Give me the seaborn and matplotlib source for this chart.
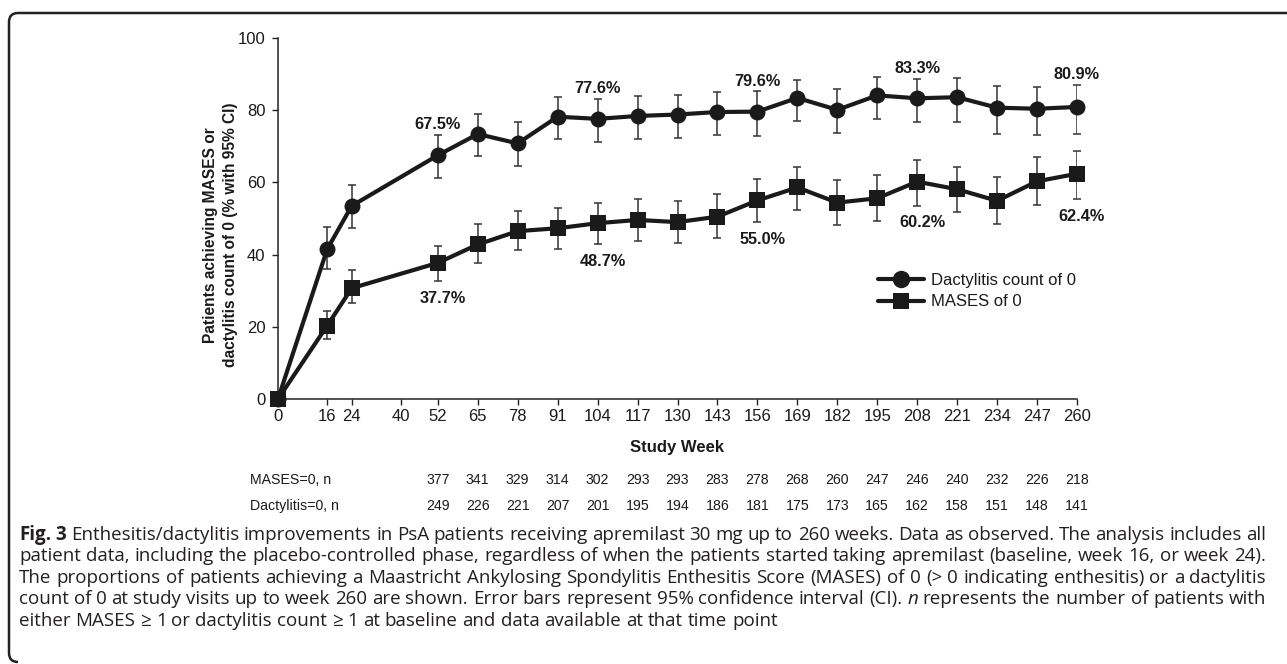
import numpy as np
import pandas as pd
import seaborn as sns
import matplotlib
matplotlib.use("Agg")
import matplotlib.pyplot as plt
from matplotlib.path import Path
from matplotlib.patches import PathPatch
from matplotlib.transforms import IdentityTransform, blended_transform_factory
from matplotlib.lines import Line2D

# ---- data -------------------------------------------------------------
weeks = [0, 16, 24, 52, 65, 78, 91, 104, 117, 130, 143, 156, 169, 182, 195,
         208, 221, 234, 247, 260]

dact = [0, 41.5, 53.5, 67.5, 73.4, 70.8, 78.2, 77.6, 78.4, 78.8, 79.5, 79.6,
        83.4, 80.1, 84.1, 83.3, 83.6, 80.7, 80.4, 80.9]
dact_lo = [0, 35.9, 47.4, 61.3, 67.2, 64.5, 72.0, 71.1, 72.0, 72.4, 73.0, 72.9,
           77.1, 73.6, 77.7, 76.7, 76.7, 73.5, 73.0, 73.3]
dact_hi = [0, 47.6, 59.2, 73.1, 78.9, 76.8, 83.6, 83.1, 83.9, 84.3, 85.1, 85.2,
           88.5, 86.0, 89.3, 88.6, 89.0, 86.7, 86.5, 87.0]

mases = [0, 20.3, 30.7, 37.7, 42.8, 46.5, 47.3, 48.7, 49.6, 49.0, 50.5, 55.0,
         58.6, 54.4, 55.6, 60.2, 58.1, 54.9, 60.3, 62.4]
mases_lo = [0, 16.6, 26.6, 32.7, 37.6, 41.2, 41.6, 42.8, 43.9, 43.1, 44.7, 48.9,
            52.3, 48.1, 49.2, 53.6, 51.7, 48.4, 53.7, 55.4]
mases_hi = [0, 24.5, 35.6, 42.5, 48.5, 52.2, 52.8, 54.3, 55.5, 54.8, 56.7, 60.9,
            64.4, 60.7, 62.0, 66.1, 64.4, 61.6, 67.0, 68.7]

labelled_weeks = [52, 104, 156, 208, 260]

x_ticks = [0, 16, 24, 40, 52, 65, 78, 91, 104, 117, 130, 143, 156, 169, 182,
           195, 208, 221, 234, 247, 260]
y_ticks = [0, 20, 40, 60, 80, 100]

n_weeks = [52, 65, 78, 91, 104, 117, 130, 143, 156, 169, 182, 195, 208, 221,
           234, 247, 260]
mases_n = [377, 341, 329, 314, 302, 293, 293, 283, 278, 268, 260, 247, 246,
           240, 232, 226, 218]
dact_n = [249, 226, 221, 207, 201, 195, 194, 186, 181, 175, 173, 165, 162, 158,
          151, 148, 141]

series_names = ["Dactylitis count of 0", "MASES of 0"]

caption_lines = [
    [("Fig. 3", "bold"), (" Enthesitis/dactylitis improvements in PsA patients receiving "
                          "apremilast 30 mg up to 260 weeks. Data as observed. The analysis includes all", "normal")],
    [("patient data, including the placebo-controlled phase, regardless of when the patients "
      "started taking apremilast (baseline, week 16, or week 24).", "normal")],
    [("The proportions of patients achieving a Maastricht Ankylosing Spondylitis Enthesitis "
      "Score (MASES) of 0 (> 0 indicating enthesitis) or a dactylitis", "normal")],
    [("count of 0 at study visits up to week 260 are shown. Error bars represent 95% confidence "
      "interval (CI). ", "normal"), ("n", "italic"),
     (" represents the number of patients with", "normal")],
    [("either MASES \u2265 1 or dactylitis count \u2265 1 at baseline and data available at "
      "that time point", "normal")],
]

# ---- styling ----------------------------------------------------------
sns.set_theme(style="ticks")
plt.rcParams["font.family"] = ["Liberation Sans", "DejaVu Sans"]
INK = "#1a1a1a"

W, H = 1287, 664
fig = plt.figure(figsize=(W / 100, H / 100), dpi=100)
fig.patch.set_facecolor("white")

ax_l, ax_r, ax_t, ax_b = 278, 1077, 38, 399
ax = fig.add_axes([ax_l / W, 1 - ax_b / H, (ax_r - ax_l) / W, (ax_b - ax_t) / H])
ax.set_facecolor("white")

df = pd.DataFrame({
    "week": weeks * 2,
    "pct": dact + mases,
    "series": [series_names[0]] * len(weeks) + [series_names[1]] * len(weeks),
})

# confidence intervals
for vals, lo, hi in [(dact, dact_lo, dact_hi), (mases, mases_lo, mases_hi)]:
    w = np.array(weeks, float)
    v = np.array(vals, float)
    lo = np.array(lo, float)
    hi = np.array(hi, float)
    m = hi > lo
    ax.errorbar(w[m], v[m], yerr=[v[m] - lo[m], hi[m] - v[m]], fmt="none",
                ecolor="#333333", elinewidth=1.1, capsize=2.6, capthick=1.1,
                zorder=2)

sns.lineplot(data=df, x="week", y="pct", hue="series", style="series",
             palette={series_names[0]: INK, series_names[1]: INK},
             markers={series_names[0]: "o", series_names[1]: "s"},
             dashes=False, linewidth=3.0, markersize=11.5, markeredgewidth=0,
             legend=False, ax=ax, zorder=3, clip_on=False)
for ln in ax.lines:
    ln.set_clip_on(False)

# value labels
for wk in labelled_weeks:
    i = weeks.index(wk)
    ax.annotate(f"{dact[i]:.1f}%", xy=(wk, dact_hi[i]), xytext=(0, 7.5),
                textcoords="offset points", ha="center", va="center",
                fontsize=11.7, fontweight="bold", color=INK)
    ax.annotate(f"{mases[i]:.1f}%", xy=(wk, mases_lo[i]), xytext=(3.5, -12.5),
                textcoords="offset points", ha="center", va="center",
                fontsize=11.7, fontweight="bold", color=INK)

# axes
ax.set_xlim(0, 260)
ax.set_ylim(0, 100)
ax.set_xticks(x_ticks)
ax.set_xticklabels([str(t) for t in x_ticks])
ax.set_yticks(y_ticks)
ax.set_yticklabels([str(t) for t in y_ticks])
ax.tick_params(axis="both", direction="out", length=4, width=1.0,
               color="#222222", labelsize=12, labelcolor=INK, pad=3)
ax.tick_params(axis="y", pad=5)
sns.despine(ax=ax, top=True, right=True)
for s in ["left", "bottom"]:
    ax.spines[s].set_linewidth(1.1)
    ax.spines[s].set_color("#222222")

ax.set_xlabel("Study Week", fontsize=12, fontweight="bold", color=INK,
              labelpad=12)
ax.set_ylabel("Patients achieving MASES or\ndactylitis count of 0 (% with 95% CI)",
              fontsize=11.2, fontweight="bold", color=INK, linespacing=1.45)
ax.yaxis.set_label_coords(-0.050, 0.455)

# legend
handles = [
    Line2D([], [], color=INK, lw=3.0, marker="o", markersize=12.5, markeredgewidth=0),
    Line2D([], [], color=INK, lw=3.0, marker="s", markersize=11.5, markeredgewidth=0),
]
leg = ax.legend(handles, series_names, loc="center left",
                bbox_to_anchor=(878 / W, 1 - 291 / H), bbox_transform=fig.transFigure,
                frameon=False, fontsize=12, handlelength=2.75, handletextpad=0.45,
                labelspacing=0.4, borderaxespad=0, borderpad=0)
for t in leg.get_texts():
    t.set_color(INK)

# patient-number table
tr = blended_transform_factory(ax.transData, fig.transFigure)
row_y = [1 - 480 / H, 1 - 506 / H]
for label, counts, y in [("MASES=0, n", mases_n, row_y[0]),
                         ("Dactylitis=0, n", dact_n, row_y[1])]:
    fig.text(250 / W, y, label, ha="left", va="center", fontsize=10.2, color=INK)
    for wk, c in zip(n_weeks, counts):
        ax.text(wk, y, str(c), transform=tr, ha="center", va="center",
                fontsize=10.2, color=INK, clip_on=False)

# caption, justified to the column width
cap_font = ["Open Sans", "DejaVu Sans"]
cap_left, cap_right = 19, 1266
cap_y0, cap_pitch = 535, 21.4
renderer = fig.canvas.get_renderer()


def word_runs(line):
    runs = []
    for text, style in line:
        for p in text.split(" "):
            if p:
                runs.append((p, style))
    return runs


def make_text(x, y, s, style, size):
    kw = dict(fontsize=size, color="#231f20", family=cap_font,
              ha="left", va="center")
    if style == "bold":
        kw["fontweight"] = "bold"
    if style == "italic":
        kw["fontstyle"] = "italic"
    return fig.text(x / W, 1 - y / H, s, **kw)


def natural_width(line, size):
    runs = word_runs(line)
    ts = [make_text(0, 0, s, st, size) for s, st in runs]
    total = sum(t.get_window_extent(renderer).width for t in ts)
    a = make_text(0, 0, "a a", "normal", size)
    b = make_text(0, 0, "aa", "normal", size)
    sp = a.get_window_extent(renderer).width - b.get_window_extent(renderer).width
    for t in ts + [a, b]:
        t.remove()
    return total + sp * (len(runs) - 1), sp


# size the caption so the first line fills the column with normal spacing
probe_size = 12.0
nat, _ = natural_width(caption_lines[0], probe_size)
cap_size = probe_size * (cap_right - cap_left) / nat
_, space_w = natural_width(caption_lines[0], cap_size)

for li, line in enumerate(caption_lines):
    y = cap_y0 + li * cap_pitch
    runs = word_runs(line)
    texts = [make_text(0, y, s, st, cap_size) for s, st in runs]
    widths = [t.get_window_extent(renderer).width for t in texts]
    gaps = len(runs) - 1
    last = li == len(caption_lines) - 1
    if last or gaps == 0:
        gap = space_w
    else:
        gap = (cap_right - cap_left - sum(widths)) / gaps
    x = cap_left
    for t, wdt in zip(texts, widths):
        t.set_x(x / W)
        x += wdt + gap

# figure border (top and left edges with rounded corners)
r = 9
x0, y_top, y_bot = 9, 13, 662
pts = [(W, y_top), (x0 + r, y_top), (x0, y_top), (x0, y_top + r),
       (x0, y_bot - r), (x0, y_bot), (x0 + r, y_bot)]
codes = [Path.MOVETO, Path.LINETO, Path.CURVE3, Path.CURVE3,
         Path.LINETO, Path.CURVE3, Path.CURVE3]
verts = [(px, H - py) for px, py in pts]
fig.add_artist(PathPatch(Path(verts, codes), fill=False, lw=1.8,
                         edgecolor="#222222", transform=IdentityTransform()))

fig.savefig("out.png", dpi=100, facecolor="white")
